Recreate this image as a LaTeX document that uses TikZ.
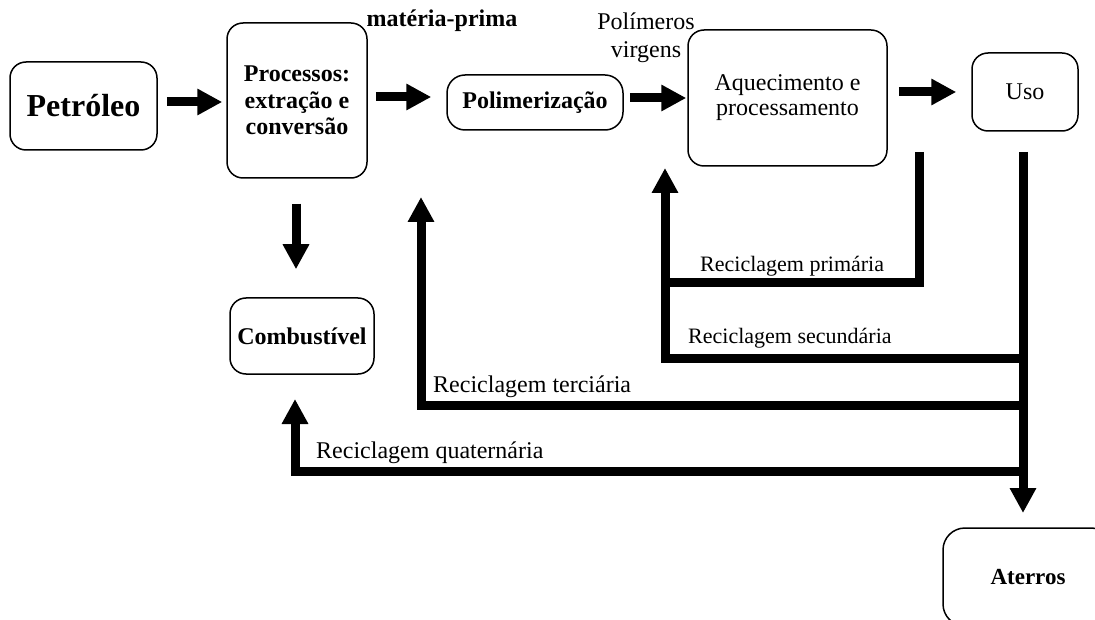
\documentclass[tikz,border=0pt]{standalone}
\usepackage{fontspec}
\setmainfont{Liberation Serif}
\usetikzlibrary{arrows.meta,calc}
\begin{document}
\begin{tikzpicture}[x=1pt,y=-1pt,
  box/.style={draw,line width=1.5pt,rounded corners=16pt,inner sep=0pt,align=center},
  fl/.style={line width=9pt,line join=miter,-{Triangle[width=25pt,length=25pt]}},
  ln/.style={line width=9pt,line join=miter},
  fb/.style={font=\fontsize{24}{26.5}\selectfont\bfseries},
  fr/.style={font=\fontsize{24}{25}\selectfont},
  lab/.style={inner sep=0pt,anchor=base west}]
\useasboundingbox (0,0) rectangle (1095,620);
\clip (0,0) rectangle (1095,620);
% boxes
\node[box,minimum width=147pt,minimum height=88pt,font=\fontsize{32}{36}\selectfont\bfseries] (pet) at (83.5,106) {Petróleo};
\node[box,fb,minimum width=140pt,minimum height=155pt] (proc) at (297,100.5) {Processos:\\extração e\\conversão};
\node[box,fb,rounded corners=18pt,minimum width=176pt,minimum height=55pt] (poli) at (535,102.5) {Polimerização};
\node[box,fr,minimum width=199pt,minimum height=136pt] (aq) at (787.5,98) {Aquecimento e\\processamento};
\node[box,fr,minimum width=106pt,minimum height=78pt] (uso) at (1025,92) {Uso};
\node[box,fb,minimum width=144pt,minimum height=76pt] (comb) at (302,336) {Combustível};
\node[box,rounded corners=22pt,minimum width=170pt,minimum height=98pt,font=\fontsize{23}{25}\selectfont\bfseries] (ater) at (1028,577) {Aterros};
% labels
\node[inner sep=0pt,fb] (mp) at (442,21) {matéria-prima};
\node[inner sep=0pt,align=center,font=\fontsize{24}{28}\selectfont] (pv) at (646,38) {Polímeros\\virgens};
% main flow arrows
\draw[fl] ($(pet.east)+(9,-4)$) coordinate (a1) -- ($(a1 -| proc.west)+(-4,0)$);
\draw[fl] ($(proc.east)+(8,-3.5)$) coordinate (a2) -- ($(a2 -| poli.west)+(-15,0)$);
\draw[fl] ($(poli.east)+(6,-4.5)$) coordinate (a3) -- ($(a3 -| aq.west)+(-1,0)$);
\draw[fl] ($(aq.east)+(11,-6)$) coordinate (a4) -- ($(a4 -| uso.west)+(-15,0)$);
\draw[fl] ($(proc.south)+(-1,25)$) coordinate (a5) -- ($(a5 |- comb.north)+(0,-28)$);
% recycling loops
\coordinate (pA) at (919,152);
\coordinate (pB) at (919,283);
\coordinate (pC) at (665,283);
\coordinate (pT) at (665,168);
\coordinate (uA) at (1023,152);
\coordinate (uT) at (1023,513);
\coordinate (sA) at (1023,358);
\coordinate (sB) at (665,358);
\coordinate (tA) at (1023,405);
\coordinate (tB) at (421,405);
\coordinate (tT) at (421,197);
\coordinate (qA) at (1023,471);
\coordinate (qB) at (295,471);
\coordinate (qT) at (295,399);
\draw[fl] (pA) -- (pB) -- (pC) -- (pT);
\draw[ln] (sA) -- (sB) -- (pC);
\draw[fl] (uA) -- (uT);
\draw[fl] (tA) -- (tB) -- (tT);
\draw[fl] (qA) -- (qB) -- (qT);
\node[lab,font=\fontsize{22}{24}\selectfont] (l1) at (700,272) {Reciclagem primária};
\node[lab,font=\fontsize{22}{24}\selectfont] (l2) at (688,343) {Reciclagem secundária};
\node[lab,font=\fontsize{24}{26}\selectfont] (l3) at (433,392) {Reciclagem terciária};
\node[lab,font=\fontsize{24}{26}\selectfont] (l4) at (316,458) {Reciclagem quaternária};
\end{tikzpicture}
\end{document}
